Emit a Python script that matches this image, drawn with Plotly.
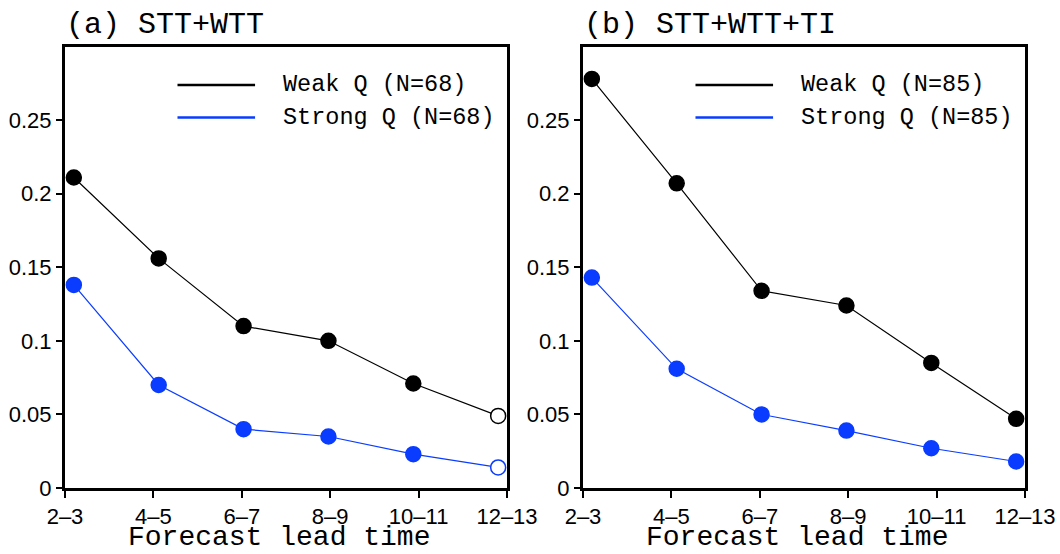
import numpy as np
import plotly.graph_objects as go
from plotly.subplots import make_subplots

# ---- data ----
lead_labels = ["2–3", "4–5", "6–7", "8–9", "10–11", "12–13"]
ytick_vals = [0, 0.05, 0.1, 0.15, 0.2, 0.25]
ytick_text = ["0", "0.05", "0.1", "0.15", "0.2", "0.25"]

a_weak = [0.211, 0.156, 0.110, 0.100, 0.071, 0.049]
a_strong = [0.138, 0.070, 0.040, 0.035, 0.023, 0.014]
a_weak_sig = [True, True, True, True, True, False]
a_strong_sig = [True, True, True, True, True, False]

b_weak = [0.278, 0.207, 0.134, 0.124, 0.085, 0.047]
b_strong = [0.143, 0.081, 0.050, 0.039, 0.027, 0.018]
b_weak_sig = [True] * 6
b_strong_sig = [True] * 6

titles = ["(a) STT+WTT", "(b) STT+WTT+TI"]
xtitle = "Forecast lead time"
legend_a = ["Weak Q (N=68)", "Strong Q (N=68)"]
legend_b = ["Weak Q (N=85)", "Strong Q (N=85)"]

BLACK = "#000000"
BLUE = "#0a3cff"
W, H = 1060, 554

# points sit slightly inside each category span
n = len(lead_labels)
x_pts = 0.1 + 0.96 * np.arange(n)

fig = make_subplots(rows=1, cols=2)

def add_series(col, vals, sig, color):
    fills = [color if s else "white" for s in sig]
    fig.add_trace(go.Scatter(
        x=x_pts, y=vals, mode="lines+markers",
        line=dict(color=color, width=1.2),
        marker=dict(size=15, color=fills, line=dict(color=color, width=1.5)),
        showlegend=False, hoverinfo="skip"), row=1, col=col)

add_series(1, a_weak, a_weak_sig, BLACK)
add_series(1, a_strong, a_strong_sig, BLUE)
add_series(2, b_weak, b_weak_sig, BLACK)
add_series(2, b_strong, b_strong_sig, BLUE)

# panel geometry (pixels)
y_top, y_bot = 46.5, 488
panels = [(65, 507), (583, 1025)]
for i, (x0, x1) in enumerate(panels):
    xa = "xaxis" if i == 0 else "xaxis2"
    ya = "yaxis" if i == 0 else "yaxis2"
    fig.layout[xa].update(
        domain=[x0 / W, x1 / W], range=[0, n - 1], automargin=False,
        tickvals=list(range(n)), ticktext=lead_labels,
        ticks="outside", ticklen=7, tickwidth=2, tickcolor="black",
        showline=True, linewidth=3, linecolor="black", mirror=True,
        showgrid=False, zeroline=False,
        tickfont=dict(family="Liberation Sans", size=22, color="black"))
    fig.layout[ya].update(
        domain=[1 - y_bot / H, 1 - y_top / H], range=[0, 0.3], automargin=False,
        tickvals=ytick_vals, ticktext=ytick_text,
        ticks="outside", ticklen=6, tickwidth=2, tickcolor="black",
        showline=True, linewidth=3, linecolor="black", mirror=True,
        showgrid=False, zeroline=False,
        tickfont=dict(family="Liberation Sans", size=22, color="black"))

    xref = "x domain" if i == 0 else "x2 domain"
    yref = "y domain" if i == 0 else "y2 domain"
    labels = legend_a if i == 0 else legend_b
    for j, (lab, col) in enumerate(zip(labels, [BLACK, BLUE])):
        yy = [0.9128, 0.839][j]
        fig.add_shape(type="line", xref=xref, yref=yref,
                      x0=0.2545, x1=0.43, y0=yy, y1=yy,
                      line=dict(color=col, width=2.5))
        fig.add_annotation(xref=xref, yref=yref, x=0.488, y=yy,
                           text=lab, showarrow=False, xanchor="left",
                           yanchor="middle",
                           font=dict(family="Liberation Mono", size=23.5, color="black"))
    fig.add_annotation(xref="paper", yref="paper", x=(x0 - 1) / W, y=1 - 25 / H,
                       text=titles[i], showarrow=False, xanchor="left",
                       yanchor="middle",
                       font=dict(family="Liberation Mono", size=30, color="black"))
    fig.add_annotation(xref="paper", yref="paper", x=(x0 + x1 - 14) / 2 / W,
                       y=0, text=xtitle, showarrow=False,
                       xanchor="center", yanchor="bottom", borderpad=0,
                       font=dict(family="Liberation Mono", size=28, color="black"))

fig.update_layout(width=W, height=H, margin=dict(l=0, r=0, t=0, b=0),
                  paper_bgcolor="white", plot_bgcolor="white")
fig.write_html("out.html", config={"displayModeBar": False},
               post_script="document.body.style.margin='0';document.body.style.padding='0';")
